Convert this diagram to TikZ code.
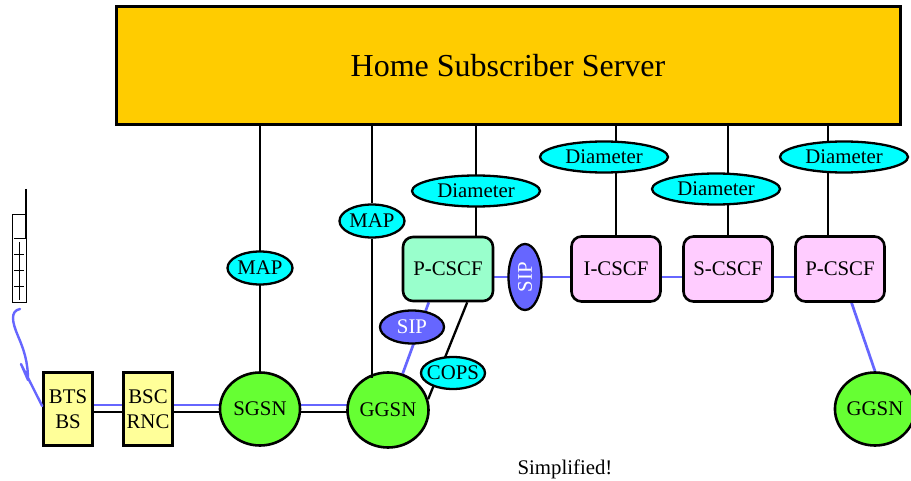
\documentclass[tikz,border=0pt]{standalone}
\usepackage{fontspec}
\setmainfont{Liberation Serif}
\usetikzlibrary{positioning,shapes.geometric,backgrounds,calc}

\definecolor{hssyellow}{HTML}{FFCC00}
\definecolor{protocyan}{HTML}{00FFFF}
\definecolor{sipblue}{HTML}{6666FF}
\definecolor{pcscfgreen}{HTML}{99FFCC}
\definecolor{cscfpink}{HTML}{FFCCFF}
\definecolor{gsngreen}{HTML}{66FF33}
\definecolor{bsyellow}{HTML}{FFFF99}

\tikzset{
  proto/.style={ellipse,draw,line width=2.3pt,fill=protocyan,inner sep=0pt,
    minimum width=65pt,minimum height=33pt},
  diam/.style={proto,minimum width=128pt,minimum height=31pt},
  sipoval/.style={ellipse,draw,line width=2.3pt,fill=sipblue,text=white,inner sep=0pt},
  cscf/.style={draw,line width=2.6pt,rounded corners=10pt,fill=cscfpink,
    minimum width=89pt,minimum height=65pt},
  gsn/.style={ellipse,draw,line width=2.6pt,fill=gsngreen,inner sep=0pt,
    minimum width=80pt,minimum height=73pt},
  bsbox/.style={draw,line width=2.6pt,fill=bsyellow,inner sep=0pt,align=center,
    minimum width=49pt,minimum height=73pt},
  link/.style={line width=2.3pt},
  siplink/.style={line width=2.7pt,draw=sipblue},
  radio/.style={line width=2.4pt,draw=sipblue,line join=round,line cap=round},
}

\begin{document}
\begin{tikzpicture}[x=1pt,y=-1pt,every node/.style={font=\fontsize{20.8}{25}\selectfont}]
	\useasboundingbox (0,0) rectangle (911,481);
	\node[draw,line width=3pt,fill=hssyellow,minimum width=784pt,minimum height=118pt,
		font=\fontsize{32}{36}\selectfont] (hss) at (508,66) {Home Subscriber Server};
	% protocols
	\node[proto] (mapa) at (260,268) {MAP};
	\node[proto] (mapb) at (372,221) {MAP};
	\node[diam] (diaa) at (476,191) {Diameter};
	\node[diam] (diab) at (604,157) {Diameter};
	\node[diam] (diac) at (716,189) {Diameter};
	\node[diam] (diad) at (844,157) {Diameter};
	% call session control
	\node[cscf,fill=pcscfgreen,minimum width=90pt,minimum height=64pt] (pcscfa) at (448,269) {P-CSCF};
	\node[sipoval,minimum width=66pt,minimum height=33pt,rotate=90] (sip) at (525,277) {SIP};
	\node[cscf] (icscf) at (616,269) {I-CSCF};
	\node[cscf] (scscf) at (728,269) {S-CSCF};
	\node[cscf] (pcscfb) at (840,269) {P-CSCF};
	\node[sipoval,minimum width=64pt,minimum height=33pt] (sipb) at (412,327) {SIP};
	\node[proto,inner xsep=-4pt,minimum width=64pt,minimum height=32pt] (cops) at (453,373) {COPS};
	% access and packet core
	\node[bsbox] (bts) at (68,409) {BTS\\BS};
	\node[bsbox] (bsc) at (148,409) {BSC\\RNC};
	\node[gsn] (sgsn) at (260,409) {SGSN};
	\node[gsn,minimum width=81pt,minimum height=75pt] (ggsna) at (388,410) {GGSN};
	\node[gsn] (ggsnb) at (875,409) {GGSN};
	\node (note) at (565,469) {Simplified!};

	\begin{scope}[on background layer]
		\draw[link] (hss.south -| sgsn) -- (sgsn);
		\draw[link] (hss.south -| mapb) -- (mapb);
		\draw[link] (hss.south -| diaa) -- (diaa |- pcscfa.north);
		\draw[link] (hss.south -| icscf) -- (icscf);
		\draw[link] (hss.south -| scscf) -- (scscf);
		\draw[link] ([xshift=-12pt]pcscfb.center |- hss.south) -- ([xshift=-12pt]pcscfb.center);
		\draw[link] (pcscfa.300) -- (ggsna.15);
		\draw[siplink] (pcscfa.240) -- (ggsna.68);
		\draw[siplink] (pcscfa |- sip) -- (pcscfb |- sip);
		\draw[siplink] (pcscfb) -- (ggsnb.north);
		\foreach \a/\b in {bts/bsc,bsc/sgsn,sgsn/ggsna} {
			\draw[siplink] ([yshift=4pt]\a.center) -- ([yshift=4pt]\a.center -| \b);
			\draw[link] ([yshift=-3pt]\a.center) -- ([yshift=-3pt]\a.center -| \b);
		}
	\end{scope}
	\draw[link] (mapb.south) -- ($(mapb |- ggsna.north)+(0,7)$);

	% handset
	\draw[line width=1pt] (12,215) rectangle (26,303);
	\draw[line width=1.4pt] (26,189) -- (26,239);
	\draw[line width=1pt] (14,239) -- (26,239);
	\draw[line width=1pt] (19,242) -- (19,300);
	\foreach \y in {255,271,287}
		\draw[line width=1pt] (14,\y) -- (24,\y);
	\coordinate (phone) at (20,309);
	\draw[radio] (phone) .. controls (10,311) and (12,322) .. (18,336)
		.. controls (24,350) and (28,362) .. (28,380) -- (21,364) -- ([yshift=3pt]bts.west);
\end{tikzpicture}
\end{document}
